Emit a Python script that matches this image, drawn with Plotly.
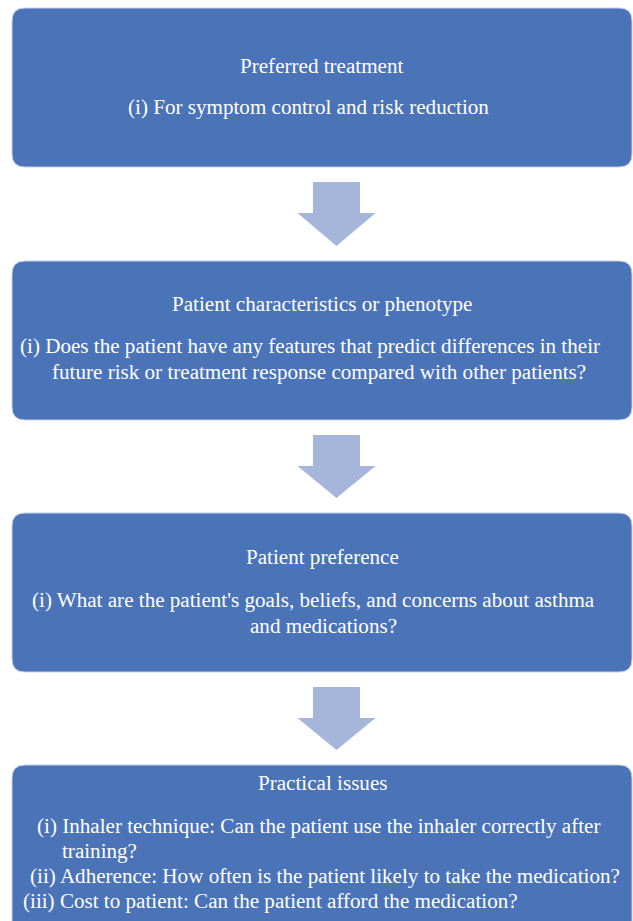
import plotly.graph_objects as go

# ---- content ----
box_titles = [
    "Preferred treatment",
    "Patient characteristics or phenotype",
    "Patient preference",
    "Practical issues",
]
box_lines = [
    ["(i) For symptom control and risk reduction"],
    ["(i) Does the patient have any features that predict differences in their",
     "future risk or treatment response compared with other patients?"],
    ["(i) What are the patient's goals, beliefs, and concerns about asthma",
     "and medications?"],
    ["(i) Inhaler technique: Can the patient use the inhaler correctly after",
     "training?",
     "(ii) Adherence: How often is the patient likely to take the medication?",
     "(iii) Cost to patient: Can the patient afford the medication?"],
]

# ---- layout constants (pixels) ----
W, H = 633, 921
BOX_X0, BOX_X1 = 12, 632
BOX_TOPS = [8, 261, 513, 765]
BOX_H = 159
BOX_H_LAST = 170
RADIUS = 13
BOX_COLOR = "#4A73B8"
ARROW_COLOR = "#A6B6DA"
TITLE_Y = [66, 304, 557, 783]
LINE_Y = [[107], [346, 372], [600, 626], [826, 851, 876, 901]]
LINE_X = [[126], [18, 50], [30, 248], [35, 60, 28, 21]]
TITLE_X = 322
FONT = "Liberation Serif"
FSIZE = 21.1


def rounded_rect(x0, y0, x1, y1, r):
    return (f"M {x0+r},{y0} L {x1-r},{y0} Q {x1},{y0} {x1},{y0+r} "
            f"L {x1},{y1-r} Q {x1},{y1} {x1-r},{y1} L {x0+r},{y1} "
            f"Q {x0},{y1} {x0},{y1-r} L {x0},{y0+r} Q {x0},{y0} {x0+r},{y0} Z")


def down_arrow(cx, y0, y1):
    sw, hw, hy = 23.5, 39, y0 + 31
    return (f"M {cx-sw},{y0} L {cx+sw},{y0} L {cx+sw},{hy} L {cx+hw},{hy} "
            f"L {cx},{y1} L {cx-hw},{hy} L {cx-sw},{hy} Z")


shapes = []
for i, top in enumerate(BOX_TOPS):
    h = BOX_H_LAST if i == len(BOX_TOPS) - 1 else BOX_H
    shapes.append(dict(type="path", path=rounded_rect(BOX_X0, top, BOX_X1, top + h, RADIUS),
                       fillcolor=BOX_COLOR, line=dict(color="#C3CFE9", width=1),
                       xref="x", yref="y", layer="below"))
for i in range(len(BOX_TOPS) - 1):
    y0 = BOX_TOPS[i] + BOX_H + 15
    y1 = BOX_TOPS[i + 1] - 15
    shapes.append(dict(type="path", path=down_arrow(336.5, y0, y1),
                       fillcolor=ARROW_COLOR, line=dict(width=0),
                       xref="x", yref="y", layer="below"))

annotations = []
for i, t in enumerate(box_titles):
    annotations.append(dict(x=TITLE_X, y=TITLE_Y[i], text=t, showarrow=False,
                            xanchor="center", yanchor="middle", xref="x", yref="y",
                            font=dict(family=FONT, size=FSIZE, color="white")))
    for j, line in enumerate(box_lines[i]):
        annotations.append(dict(x=LINE_X[i][j], y=LINE_Y[i][j], text=line, showarrow=False,
                                xanchor="left", yanchor="middle", xref="x", yref="y",
                                font=dict(family=FONT, size=FSIZE, color="white")))

fig = go.Figure()
fig.update_layout(
    width=W, height=H, margin=dict(l=0, r=0, t=0, b=0),
    paper_bgcolor="white", plot_bgcolor="white",
    xaxis=dict(range=[0, W], visible=False, fixedrange=True),
    yaxis=dict(range=[H, 0], visible=False, fixedrange=True),
    shapes=shapes, annotations=annotations, showlegend=False,
)
fig.write_html("out.html", config={"displayModeBar": False},
               post_script="document.body.style.margin='0';document.body.style.overflow='hidden';")
